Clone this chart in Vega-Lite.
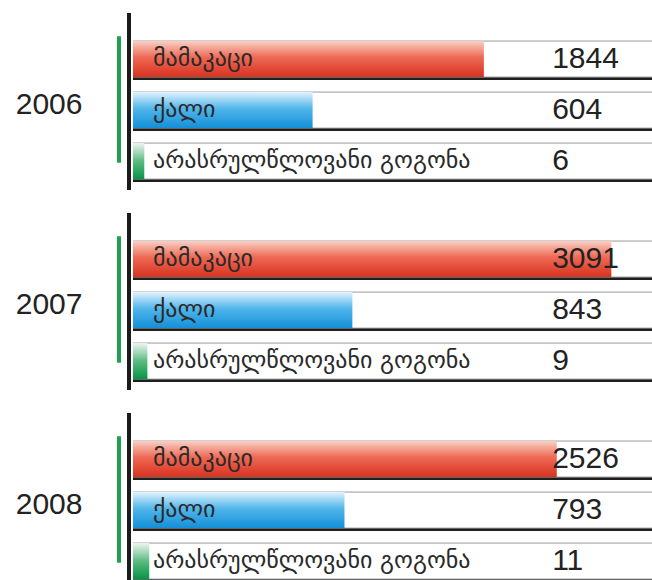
{
  "$schema": "https://vega.github.io/schema/vega-lite/v6.json",
  "width": 519,
  "height": 603,
  "padding": {"left": 15, "top": 0, "right": 0, "bottom": 0},
  "background": "white",
  "config": {"view": {"stroke": null}},
  "resolve": {"scale": {"yOffset": "independent"}},
  "data": {
    "values": [
      {"year": "2006", "cat": "მამაკაცი", "value": 1844},
      {"year": "2006", "cat": "ქალი", "value": 604},
      {"year": "2006", "cat": "არასრულწლოვანი გოგონა", "value": 6},
      {"year": "2007", "cat": "მამაკაცი", "value": 3091},
      {"year": "2007", "cat": "ქალი", "value": 843},
      {"year": "2007", "cat": "არასრულწლოვანი გოგონა", "value": 9},
      {"year": "2008", "cat": "მამაკაცი", "value": 2526},
      {"year": "2008", "cat": "ქალი", "value": 793},
      {"year": "2008", "cat": "არასრულწლოვანი გოგონა", "value": 11}
    ]
  },
  "encoding": {
    "y": {
      "field": "year",
      "type": "nominal",
      "scale": {"domain": ["2006", "2007", "2008"], "paddingInner": 0.115, "paddingOuter": 0.065},
      "axis": {
        "title": null,
        "domain": false,
        "ticks": false,
        "labelFont": "Liberation Sans",
        "labelFontSize": 30,
        "labelColor": "#222222",
        "labelPadding": 51,
        "labelOffset": 3
      }
    }
  },
  "layer": [
    {
      "mark": {"type": "bar", "color": "#1b1b1b", "xOffset": -6, "x2Offset": -2},
      "encoding": {
        "x": {"datum": 0, "type": "quantitative", "scale": {"type": "pow", "exponent": 0.6, "domain": [0, 3541], "nice": false, "zero": true}, "axis": null},
        "x2": {"datum": 0}
      }
    },
    {
      "mark": {"type": "bar", "color": "#1ea04f", "height": {"band": 0.71}, "xOffset": -16, "x2Offset": -12, "yOffset": -2},
      "encoding": {
        "x": {"datum": 0, "type": "quantitative"},
        "x2": {"datum": 0}
      }
    },
    {
      "mark": {"type": "bar", "color": "#1e1e1e", "clip": true},
      "encoding": {
        "x": {"datum": 0, "type": "quantitative"},
        "x2": {"datum": 4200},
        "yOffset": {"field": "cat", "type": "nominal", "scale": {"type": "band", "domain": ["მამაკაცი", "ქალი", "არასრულწლოვანი გოგონა"], "paddingInner": 0.294, "paddingOuter": 0.382, "align": 0.797}}
      }
    },
    {
      "mark": {"type": "bar", "fill": "white", "stroke": "#9a9a9a", "strokeWidth": 1, "clip": true},
      "encoding": {
        "x": {"datum": 0, "type": "quantitative"},
        "x2": {"datum": 4200},
        "yOffset": {"field": "cat", "type": "nominal", "scale": {"type": "band", "domain": ["მამაკაცი", "ქალი", "არასრულწლოვანი გოგონა"], "paddingInner": 0.294, "paddingOuter": 0.382, "align": 0.72}}
      }
    },
    {
      "transform": [{"filter": "datum.cat === 'მამაკაცი'"}],
      "mark": {"type": "bar", "fill": {"gradient": "linear", "x1": 0, "y1": 0, "x2": 0, "y2": 1, "stops": [{"offset": 0, "color": "#f9cfc4"}, {"offset": 0.45, "color": "#ee6a55"}, {"offset": 1, "color": "#d8321f"}]}},
      "encoding": {
        "x": {"field": "value", "type": "quantitative"},
        "yOffset": {"field": "cat", "type": "nominal", "scale": {"type": "band", "domain": ["მამაკაცი", "ქალი", "არასრულწლოვანი გოგონა"], "paddingInner": 0.294, "paddingOuter": 0.382, "align": 0.72}}
      }
    },
    {
      "transform": [{"filter": "datum.cat === 'ქალი'"}],
      "mark": {"type": "bar", "fill": {"gradient": "linear", "x1": 0, "y1": 0, "x2": 0, "y2": 1, "stops": [{"offset": 0, "color": "#e2f3fc"}, {"offset": 0.45, "color": "#53b6eb"}, {"offset": 1, "color": "#1290d8"}]}},
      "encoding": {
        "x": {"field": "value", "type": "quantitative"},
        "yOffset": {"field": "cat", "type": "nominal", "scale": {"type": "band", "domain": ["მამაკაცი", "ქალი", "არასრულწლოვანი გოგონა"], "paddingInner": 0.294, "paddingOuter": 0.382, "align": 0.72}}
      }
    },
    {
      "transform": [{"filter": "datum.cat === 'არასრულწლოვანი გოგონა'"}],
      "mark": {"type": "bar", "fill": {"gradient": "linear", "x1": 0, "y1": 0, "x2": 0, "y2": 1, "stops": [{"offset": 0, "color": "#eef6f0"}, {"offset": 0.5, "color": "#5cbb82"}, {"offset": 1, "color": "#079446"}]}},
      "encoding": {
        "x": {"field": "value", "type": "quantitative"},
        "yOffset": {"field": "cat", "type": "nominal", "scale": {"type": "band", "domain": ["მამაკაცი", "ქალი", "არასრულწლოვანი გოგონა"], "paddingInner": 0.294, "paddingOuter": 0.382, "align": 0.72}}
      }
    },
    {
      "mark": {"type": "text", "align": "left", "baseline": "middle", "dx": 20, "font": "DejaVu Sans", "fontSize": 24, "color": "#2a2a2a"},
      "encoding": {
        "x": {"datum": 0, "type": "quantitative"},
        "yOffset": {"field": "cat", "type": "nominal", "scale": {"type": "band", "domain": ["მამაკაცი", "ქალი", "არასრულწლოვანი გოგონა"], "paddingInner": 0.294, "paddingOuter": 0.382, "align": 0.72}},
        "text": {"field": "cat"}
      }
    },
    {
      "mark": {"type": "text", "align": "left", "baseline": "middle", "font": "Liberation Sans", "fontSize": 30, "color": "#222222"},
      "encoding": {
        "x": {"datum": 2480, "type": "quantitative"},
        "yOffset": {"field": "cat", "type": "nominal", "scale": {"type": "band", "domain": ["მამაკაცი", "ქალი", "არასრულწლოვანი გოგონა"], "paddingInner": 0.294, "paddingOuter": 0.382, "align": 0.72}},
        "text": {"field": "value", "type": "quantitative"}
      }
    }
  ]
}
